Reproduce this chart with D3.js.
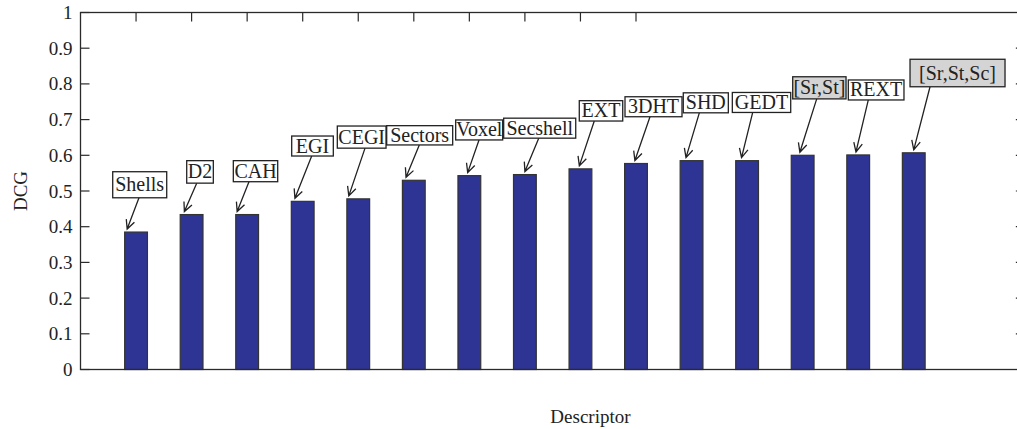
<!DOCTYPE html>
<html><head><meta charset="utf-8">
<script src="https://cdn.jsdelivr.net/npm/d3@7"></script>
<style>body{margin:0;background:#fff}svg{display:block}text{font-family:"Liberation Serif","DejaVu Serif",serif;fill:#222}</style>
</head><body><svg id="c" width="1017" height="429"></svg>
<script>
// ---- data ----
const categories = ["Shells","D2","CAH","EGI","CEGI","Sectors","Voxel","Secshell","EXT","3DHT","SHD","GEDT","[Sr,St]","REXT","[Sr,St,Sc]"];
const dcg = [0.385,0.434,0.434,0.471,0.478,0.530,0.543,0.546,0.562,0.577,0.585,0.585,0.600,0.601,0.607];
const yTicks = [0,0.1,0.2,0.3,0.4,0.5,0.6,0.7,0.8,0.9,1];
const xTicks = [1,2,3,4,5,6,7,8,9,10];
const highlighted = ["[Sr,St]","[Sr,St,Sc]"];
// annotation boxes in data units: [x0, x1, yBottom, yTop], arrow tail x, arrow tip offset
const labelBoxes = [
 [0.580,1.552,0.481,0.554],[1.912,2.391,0.522,0.585],[2.751,3.550,0.526,0.585],
 [3.802,4.551,0.598,0.654],[4.623,5.500,0.620,0.682],[5.512,6.700,0.629,0.683],
 [6.754,7.600,0.643,0.699],[7.618,8.915,0.648,0.704],[8.979,9.761,0.696,0.753],
 [9.802,10.828,0.708,0.764],[10.851,11.662,0.719,0.775],[11.734,12.785,0.720,0.776],
 [12.821,13.781,0.758,0.820],[13.822,14.824,0.755,0.811],[14.933,16.643,0.792,0.869]];
const arrowTailX = [1.053,2.092,3.033,4.162,5.122,6.099,7.174,8.249,9.249,10.252,11.140,12.101,13.253,14.182,15.293];
const arrowTipDx = [-0.16,-0.13,-0.18,-0.14,-0.17,-0.14,-0.03,0,-0.02,-0.02,-0.10,-0.10,-0.05,-0.04,0];

// ---- layout ----
const svg = d3.select("#c");
const L = 80.5, T = 12.5, B = 369.5;
const x = d3.scaleLinear().domain([0,17]).range([L, L + 17*55.55]);
const y = d3.scaleLinear().domain([0,1]).range([B, T]);
const R = x(17);
const tickLen = 9;
const ink = "#2a2a2a";

// ticks (under bars)
const g = svg.append("g");
g.selectAll(".tt").data(xTicks).join("line")
  .attr("x1",d=>x(d)).attr("x2",d=>x(d)).attr("y1",T).attr("y2",T+tickLen)
  .attr("stroke",ink).attr("stroke-width",1.2);
g.selectAll(".bt").data(xTicks).join("line")
  .attr("x1",d=>x(d)).attr("x2",d=>x(d)).attr("y1",B).attr("y2",B-tickLen)
  .attr("stroke",ink).attr("stroke-width",1.2);
g.selectAll(".lt").data(yTicks).join("line")
  .attr("x1",L).attr("x2",L+tickLen).attr("y1",d=>y(d)).attr("y2",d=>y(d))
  .attr("stroke",ink).attr("stroke-width",1.2);
g.selectAll(".rt").data(yTicks).join("line")
  .attr("x1",R).attr("x2",R-tickLen).attr("y1",d=>y(d)).attr("y2",d=>y(d))
  .attr("stroke",ink).attr("stroke-width",1.2);

// bars
const bw = 0.41;
svg.append("g").selectAll("rect").data(dcg).join("rect")
  .attr("x",(d,i)=>x(i+1-bw/2)).attr("width",x(bw)-x(0))
  .attr("y",d=>y(d)).attr("height",d=>y(0)-y(d))
  .attr("fill","#2e3494").attr("stroke","#333").attr("stroke-width",1.2);

// axes box
svg.append("rect").attr("x",L).attr("y",T).attr("width",R-L).attr("height",B-T)
  .attr("fill","none").attr("stroke",ink).attr("stroke-width",1.3);

// y tick labels
svg.append("g").selectAll("text").data(yTicks).join("text")
  .attr("x",L-8).attr("y",d=>y(d)+6.5).attr("text-anchor","end")
  .style("font-size","19px").text(d=>String(d));

// axis titles
svg.append("text").attr("transform",`translate(27,${(T+B)/2}) rotate(-90)`)
  .attr("text-anchor","middle").style("font-size","19px").text("DCG");
svg.append("text").attr("x",x(9.18)).attr("y",423).attr("text-anchor","middle")
  .style("font-size","19px").text("Descriptor");

// annotations
const ann = svg.append("g");
function arrow(x1,y1,x2,y2){
  const a = Math.atan2(y2-y1,x2-x1), len = 10, sp = 0.45;
  const p1 = [x2 - len*Math.cos(a-sp), y2 - len*Math.sin(a-sp)];
  const p2 = [x2 - len*Math.cos(a+sp), y2 - len*Math.sin(a+sp)];
  return `M${x1},${y1}L${x2},${y2}M${p1[0]},${p1[1]}L${x2},${y2}L${p2[0]},${p2[1]}`;
}
categories.forEach((c,i)=>{
  const [bx0,bx1,by0,by1] = labelBoxes[i];
  const X0=x(bx0),X1=x(bx1),Y0=y(by1),Y1=y(by0);
  const tail=[x(arrowTailX[i]),Y1], tip=[x(i+1+arrowTipDx[i]), y(dcg[i])-3];
  ann.append("path").attr("d",arrow(tail[0],tail[1],tip[0],tip[1]))
    .attr("fill","none").attr("stroke","#222").attr("stroke-width",1.3);
  ann.append("rect").attr("x",X0).attr("y",Y0).attr("width",X1-X0).attr("height",Y1-Y0)
    .attr("fill",highlighted.includes(c)?"#d4d4d4":"#fff").attr("stroke","#222").attr("stroke-width",1.3);
  ann.append("text").attr("x",(X0+X1)/2).attr("y",(Y0+Y1)/2+6.5).attr("text-anchor","middle")
    .style("font-size","20px").text(c);
});
</script></body></html>
